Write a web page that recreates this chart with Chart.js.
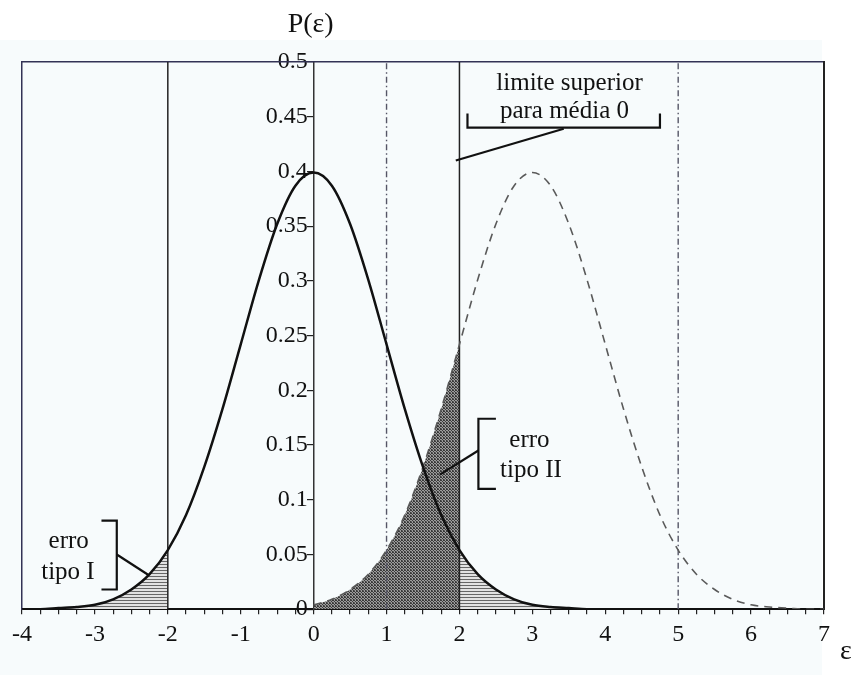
<!DOCTYPE html>
<html>
<head>
<meta charset="utf-8">
<script src="https://cdn.jsdelivr.net/npm/chart.js@4.4.1/dist/chart.umd.min.js"></script>
<style>
  html, body { margin: 0; padding: 0; background: #fff; }
  #wrap { position: relative; width: 854px; height: 675px; }
</style>
</head>
<body>
<div id="wrap"><canvas id="chart" width="854" height="675"></canvas></div>
<script>
// density with mean 0 (solid curve)
const EPS_NULL = [-4, -3.75, -3.5, -3.25, -3, -2.75, -2.5, -2.25, -2, -1.75, -1.5, -1.25, -1, -0.75, -0.5, -0.25,
  0, 0.25, 0.5, 0.75, 1, 1.25, 1.5, 1.75, 2, 2.25, 2.5, 2.75, 3, 3.25, 3.5, 3.75, 4]
const P_NULL = [0, 0, 0.001, 0.002, 0.004, 0.009, 0.018, 0.032, 0.054, 0.086, 0.130, 0.183, 0.242, 0.301, 0.352, 0.387,
  0.399, 0.387, 0.352, 0.301, 0.242, 0.183, 0.130, 0.086, 0.054, 0.032, 0.018, 0.009, 0.004, 0.002, 0.001, 0, 0]

// density with mean 3 (dashed curve)
const EPS_ALT = [0, 0.25, 0.5, 0.75, 1, 1.25, 1.5, 1.75, 2, 2.25, 2.5, 2.75, 3, 3.25, 3.5, 3.75,
  4, 4.25, 4.5, 4.75, 5, 5.25, 5.5, 5.75, 6, 6.25, 6.5, 6.75, 7]
const P_ALT = [0.004, 0.009, 0.018, 0.032, 0.054, 0.086, 0.130, 0.183, 0.242, 0.301, 0.352, 0.387, 0.399, 0.387, 0.352, 0.301,
  0.242, 0.183, 0.130, 0.086, 0.054, 0.032, 0.018, 0.009, 0.004, 0.002, 0.001, 0, 0]

const LOWER_LIMIT = -2
const UPPER_LIMIT = 2
const SOLID_MARKERS = [-2, 2]
const DASHDOT_MARKERS = [1, 5]
const ALT_SHADE_FROM = 0

const X_MIN = -4
const X_MAX = 7
const Y_MIN = 0
const Y_MAX = 0.5

const SERIF = '"Liberation Serif", "DejaVu Serif", serif'

const { Chart } = window

function makePattern(w, h, draw) {
  const c = document.createElement('canvas')
  c.width = w
  c.height = h
  const ctx = c.getContext('2d')
  draw(ctx)
  return ctx.createPattern(c, 'repeat')
}

// stippled dark fill (type II) and horizontal hatching (type I)
const stipple = makePattern(3, 3, (ctx) => {
  ctx.fillStyle = '#9c9c9c'
  ctx.fillRect(0, 0, 3, 3)
  ctx.fillStyle = '#3a3a3a'
  ctx.fillRect(0, 0, 1, 1)
  ctx.fillRect(1, 1, 1, 1)
  ctx.fillRect(2, 2, 1, 1)
  ctx.fillRect(2, 0, 1, 1)
  ctx.fillStyle = '#666666'
  ctx.fillRect(0, 2, 1, 1)
})
const hatch = makePattern(1, 3, (ctx) => {
  ctx.fillStyle = '#e2e2e2'
  ctx.fillRect(0, 0, 1, 3)
  ctx.fillStyle = '#666666'
  ctx.fillRect(0, 0, 1, 1)
})

const toPoints = (xs, ys) => xs.map((x, i) => ({ x, y: ys[i] }))
const between = (pts, a, b) => pts.filter((p) => p.x >= a && p.x <= b)

const nullPts = toPoints(EPS_NULL, P_NULL)
const altPts = toPoints(EPS_ALT, P_ALT)

const vline = (x, color, dash, width) => ({
  data: [{ x, y: Y_MIN }, { x, y: Y_MAX }],
  showLine: true,
  borderColor: color,
  borderWidth: width,
  borderDash: dash,
  pointRadius: 0,
  fill: false,
  order: 2,
})

const curveCommon = { pointRadius: 0, cubicInterpolationMode: 'monotone', showLine: true }

const datasets = [
  { ...curveCommon, data: nullPts, borderColor: '#111111', borderWidth: 2.5, fill: false, order: 0 },
  { ...curveCommon, data: altPts, borderColor: '#5a5a5a', borderWidth: 1.6, borderDash: [8, 6], fill: false, order: 1 },
  { ...curveCommon, data: between(altPts, ALT_SHADE_FROM, UPPER_LIMIT), borderWidth: 0, backgroundColor: stipple, fill: 'origin', order: 5 },
  { ...curveCommon, data: between(nullPts, X_MIN, LOWER_LIMIT), borderWidth: 0, backgroundColor: hatch, fill: 'origin', order: 6 },
  { ...curveCommon, data: between(nullPts, UPPER_LIMIT, X_MAX), borderWidth: 0, backgroundColor: hatch, fill: 'origin', order: 6 },
  ...SOLID_MARKERS.map((x) => vline(x, '#222222', [], 1.5)),
  ...DASHDOT_MARKERS.map((x) => vline(x, '#555566', [6, 3, 1.5, 3], 1.4)),
]

// labels and brackets, placed in data units
const NOTES = [
  { text: 'limite superior', x: 3.51, y: 0.480 },
  { text: 'para média 0', x: 3.44, y: 0.455 },
  { text: 'erro', x: 2.96, y: 0.154 },
  { text: 'tipo II', x: 2.98, y: 0.127 },
  { text: 'erro', x: -3.36, y: 0.062 },
  { text: 'tipo I', x: -3.37, y: 0.034 },
]
const LEADERS = [
  [[2.11, 0.453], [2.11, 0.440], [4.75, 0.440], [4.75, 0.453]],
  [[3.43, 0.439], [1.95, 0.410]],
  [[2.50, 0.174], [2.26, 0.174], [2.26, 0.110], [2.50, 0.110]],
  [[2.26, 0.145], [1.73, 0.123]],
  [[-2.91, 0.081], [-2.70, 0.081], [-2.70, 0.018], [-2.91, 0.018]],
  [[-2.70, 0.050], [-2.26, 0.031]],
]

const annotations = {
  id: 'annotations',
  beforeDraw(chart) {
    const { ctx } = chart
    ctx.save()
    ctx.fillStyle = '#f7fbfc'
    ctx.fillRect(0, 40, 822, chart.height - 40)
    ctx.restore()
  },
  afterDatasetsDraw(chart) {
    const { ctx, chartArea } = chart
    const xs = chart.scales.x
    const ys = chart.scales.y
    ctx.save()
    ctx.strokeStyle = '#111111'
    ctx.lineWidth = 2.2
    for (const line of LEADERS) {
      ctx.beginPath()
      line.forEach(([x, y], i) => {
        const px = xs.getPixelForValue(x)
        const py = ys.getPixelForValue(y)
        if (i === 0) ctx.moveTo(px, py)
        else ctx.lineTo(px, py)
      })
      ctx.stroke()
    }
    ctx.fillStyle = '#111111'
    ctx.font = `25px ${SERIF}`
    ctx.textAlign = 'center'
    ctx.textBaseline = 'middle'
    for (const note of NOTES) {
      ctx.fillText(note.text, xs.getPixelForValue(note.x), ys.getPixelForValue(note.y))
    }
    ctx.font = `28px ${SERIF}`
    ctx.fillText('P(ε)', xs.getPixelForValue(0) - 3, chartArea.top - 37)
    ctx.fillText('ε', chartArea.right + 22, chartArea.bottom + 42)
    ctx.restore()
  },
}

const tickFont = { family: SERIF, size: 24 }

new Chart(document.getElementById('chart'), {
  type: 'scatter',
  data: { datasets },
  plugins: [annotations],
  options: {
    responsive: false,
    animation: false,
    events: [],
    layout: { padding: { left: 22, right: 30, top: 62, bottom: 20 } },
    plugins: { legend: { display: false }, tooltip: { enabled: false } },
    scales: {
      x: {
        type: 'linear',
        position: 'bottom',
        min: X_MIN,
        max: X_MAX,
        grid: { drawOnChartArea: false, tickLength: 5, color: '#222222', lineWidth: 1.2 },
        border: { color: '#111111', width: 2 },
        ticks: {
          stepSize: 0.25,
          autoSkip: false,
          maxRotation: 0,
          minRotation: 0,
          padding: 6,
          color: '#111111',
          font: tickFont,
          callback: (v) => (Number.isInteger(v) ? String(v) : ''),
        },
      },
      y: {
        type: 'linear',
        position: { x: 0 },
        min: Y_MIN,
        max: Y_MAX,
        grid: { drawOnChartArea: false, tickLength: 6, color: '#222222', lineWidth: 1.2 },
        border: { color: '#333333', width: 1.5, dash: [1.5, 2.5] },
        ticks: {
          stepSize: 0.05,
          color: '#111111',
          font: tickFont,
          callback: (v) => `${Number(v.toFixed(2))} `,
        },
      },
      xTop: {
        type: 'linear',
        axis: 'x',
        position: 'top',
        grid: { display: false, drawTicks: false },
        ticks: { display: false },
        border: { color: '#333355', width: 1.5, dash: [1.5, 2.5] },
      },
      yLeft: {
        type: 'linear',
        axis: 'y',
        position: 'left',
        grid: { display: false, drawTicks: false },
        ticks: { display: false },
        border: { color: '#333355', width: 1.5, dash: [1.5, 2.5] },
      },
      yRight: {
        type: 'linear',
        axis: 'y',
        position: 'right',
        grid: { display: false, drawTicks: false },
        ticks: { display: false },
        border: { color: '#222222', width: 2 },
      },
    },
  },
})
</script>
</body>
</html>
